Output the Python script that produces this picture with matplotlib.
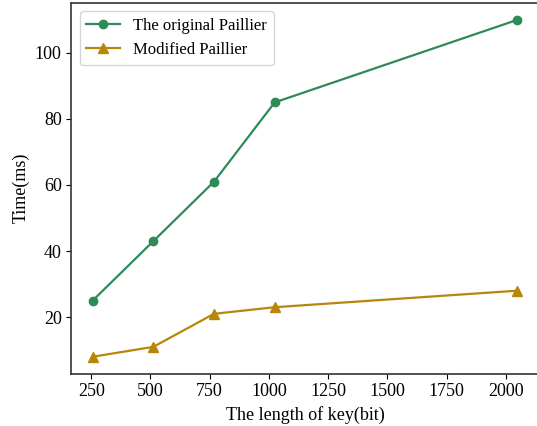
import matplotlib.pyplot as plt

plt.rcParams['font.family'] = ['Liberation Serif', 'DejaVu Serif']
plt.rcParams['font.size'] = 13

key_bits = [256, 512, 768, 1024, 2048]
original = [25, 43, 61, 85, 110]
modified = [8, 11, 21, 23, 28]

fig, ax = plt.subplots(figsize=(5.37, 4.26), dpi=100)
ax.plot(key_bits, original, color='#2e8b57', marker='o', markersize=6, linewidth=1.6, label='The original Paillier')
ax.plot(key_bits, modified, color='#b8860b', marker='^', markersize=6.5, linewidth=1.6, label='Modified Paillier')

ax.set_xlabel('The length of key(bit)')
ax.set_ylabel('Time(ms)')
ax.set_yticks([20, 40, 60, 80, 100])
for s in ax.spines.values():
    s.set_color('#333333')
    s.set_linewidth(1.2)
ax.spines['right'].set_visible(False)
ax.legend(loc='upper left', fontsize=12)

fig.subplots_adjust(left=0.133, right=1.003, top=0.993, bottom=0.123)
fig.savefig('out.png')
